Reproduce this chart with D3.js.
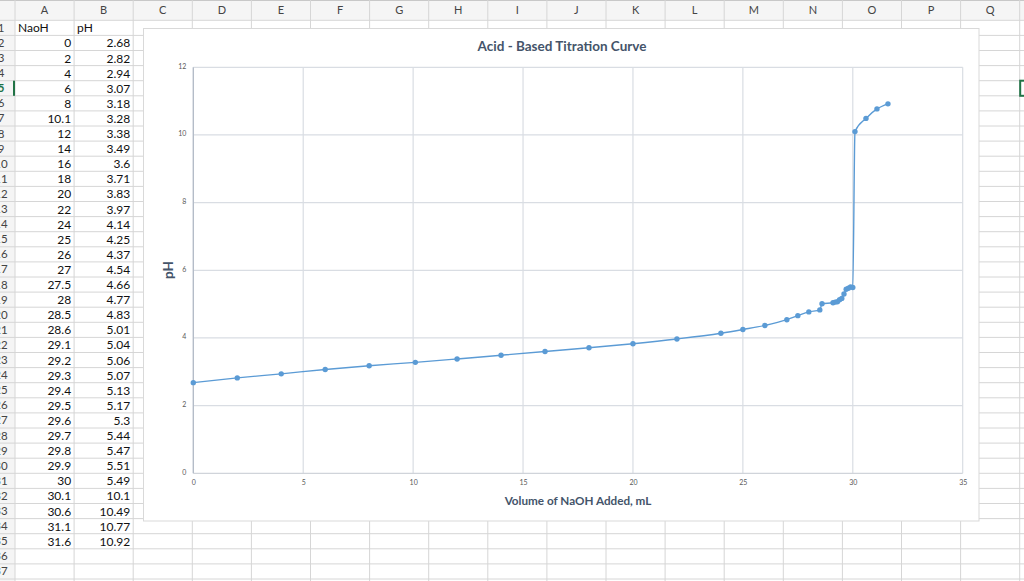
<!DOCTYPE html>
<html><head><meta charset="utf-8">
<script src="https://cdnjs.cloudflare.com/ajax/libs/d3/7.8.5/d3.min.js"></script>
<style>
html,body{margin:0;padding:0;background:#fff;overflow:hidden;}
svg{display:block;font-family:Lato,"Open Sans",sans-serif;}
</style></head>
<body>
<svg id="c" width="1024" height="581"></svg>
<script>
// Data
const naoh = [0,2,4,6,8,10.1,12,14,16,18,20,22,24,25,26,27,27.5,28,28.5,28.6,29.1,29.2,29.3,29.4,29.5,29.6,29.7,29.8,29.9,30,30.1,30.6,31.1,31.6];
const ph   = [2.68,2.82,2.94,3.07,3.18,3.28,3.38,3.49,3.6,3.71,3.83,3.97,4.14,4.25,4.37,4.54,4.66,4.77,4.83,5.01,5.04,5.06,5.07,5.13,5.17,5.3,5.44,5.47,5.51,5.49,10.1,10.49,10.77,10.92];
const colLetters = ["A","B","C","D","E","F","G","H","I","J","K","L","M","N","O","P","Q"];
const xTicks = [0,5,10,15,20,25,30,35];
const yTicks = [0,2,4,6,8,10,12];
const headerA = "NaoH", headerB = "pH";
const chartTitle = "Acid - Based Titration Curve";
const xTitle = "Volume of NaOH Added, mL";
const yTitle = "pH";

const svg = d3.select("#c");
const W = 1024, H = 581;
const colX0 = 15, colW = 59.1, hdrH = 20.3, rowH = 15.1, nRows = 37;
const gridCol = "#d6d6d6";

// ---------- Spreadsheet ----------
const sheet = svg.append("g");
sheet.append("rect").attr("x",0).attr("y",0).attr("width",W).attr("height",hdrH).attr("fill","#f5f5f5");
sheet.append("rect").attr("x",0).attr("y",0).attr("width",colX0).attr("height",H).attr("fill","#f5f5f5");
for(let r=0;r<=nRows;r++){
  const yy = hdrH + r*rowH;
  sheet.append("line").attr("x1",0).attr("x2",W).attr("y1",yy).attr("y2",yy).attr("stroke",gridCol).attr("stroke-width",1);
}
sheet.append("line").attr("x1",0).attr("x2",W).attr("y1",0.5).attr("y2",0.5).attr("stroke","#c8c8c8");
for(let c=0;c<=colLetters.length;c++){
  const xx = colX0 + c*colW;
  sheet.append("line").attr("x1",xx).attr("x2",xx).attr("y1",0).attr("y2",H).attr("stroke",gridCol).attr("stroke-width",1);
}
colLetters.forEach((L,i)=>{
  sheet.append("text").attr("x",colX0 + i*colW + colW/2).attr("y",14)
    .attr("text-anchor","middle").attr("font-size",11).attr("fill","#444").text(L);
});
for(let r=1;r<=nRows;r++){
  const yy = hdrH + (r-1)*rowH + rowH/2 + 4;
  sheet.append("text").attr("x",1).attr("y",yy).attr("text-anchor","middle")
    .attr("font-size",11.5).attr("fill", r===5 ? "#217346" : "#444")
    .attr("font-weight", r===5 ? "bold" : "normal").text(r);
}
sheet.append("rect").attr("x",13).attr("y",hdrH+4*rowH).attr("width",2).attr("height",rowH).attr("fill","#217346");
sheet.append("rect").attr("x",colX0+17*colW+0.5).attr("y",hdrH+4*rowH).attr("width",20).attr("height",rowH)
  .attr("fill","none").attr("stroke","#217346").attr("stroke-width",2);
const cellY = r => hdrH + (r-1)*rowH + rowH/2 + 4.5;
sheet.append("text").attr("x",colX0+3).attr("y",cellY(1)).attr("font-size",12).attr("fill","#111").text(headerA);
sheet.append("text").attr("x",colX0+colW+3).attr("y",cellY(1)).attr("font-size",12).attr("fill","#111").text(headerB);
naoh.forEach((v,i)=>{
  sheet.append("text").attr("x",colX0+colW-3).attr("y",cellY(i+2)).attr("text-anchor","end").attr("font-size",12).attr("fill","#111").text(String(v));
  sheet.append("text").attr("x",colX0+2*colW-3).attr("y",cellY(i+2)).attr("text-anchor","end").attr("font-size",12).attr("fill","#111").text(String(ph[i]));
});

// ---------- Chart ----------
const cx0 = 143.5, cy0 = 28.5, cx1 = 979, cy1 = 521;
svg.append("rect").attr("x",cx0).attr("y",cy0).attr("width",cx1-cx0).attr("height",cy1-cy0)
  .attr("fill","#fff").attr("stroke","#d9d9d9").attr("stroke-width",1);

const x = d3.scaleLinear().domain([0,35]).range([193.3,962.7]);
const y = d3.scaleLinear().domain([0,12]).range([473.3,67.3]);
const ch = svg.append("g");

ch.append("g").selectAll("line").data(xTicks.slice(1)).join("line")
  .attr("x1",d=>x(d)).attr("x2",d=>x(d)).attr("y1",y(12)).attr("y2",y(0))
  .attr("stroke","#d9dde3").attr("stroke-width",1.2);
ch.append("g").selectAll("line").data(yTicks.slice(1)).join("line")
  .attr("x1",x(0)).attr("x2",x(35)).attr("y1",d=>y(d)).attr("y2",d=>y(d))
  .attr("stroke","#d9dde3").attr("stroke-width",1.2);
ch.append("line").attr("x1",x(0)).attr("x2",x(35)).attr("y1",y(0)).attr("y2",y(0)).attr("stroke","#d0d4da").attr("stroke-width",1.2);
ch.append("line").attr("x1",x(0)).attr("x2",x(0)).attr("y1",y(12)).attr("y2",y(0)).attr("stroke","#b4bcc8").attr("stroke-width",1.4);

const yAxis = d3.axisLeft(y).tickValues(yTicks).tickSize(0).tickPadding(0);
const gy = ch.append("g").attr("transform",`translate(${x(0)-7},0)`).call(yAxis);
gy.select(".domain").remove();
gy.selectAll("text").attr("font-size",7).attr("fill","#595959").attr("font-family","Lato,sans-serif").attr("dy","0.1em");
const xAxis = d3.axisBottom(x).tickValues(xTicks).tickSize(0).tickPadding(0);
const gx = ch.append("g").attr("transform",`translate(0,${y(0)+7})`).call(xAxis);
gx.select(".domain").remove();
gx.selectAll("text").attr("font-size",7).attr("fill","#595959").attr("font-family","Lato,sans-serif");

ch.append("text").attr("x",562).attr("y",50.5).attr("text-anchor","middle")
  .attr("font-size",13.5).attr("font-weight","bold").attr("fill","#44546a").text(chartTitle);
ch.append("text").attr("x",578).attr("y",504.5).attr("text-anchor","middle")
  .attr("font-size",11.7).attr("font-weight","bold").attr("fill","#44546a").text(xTitle);
ch.append("text").attr("transform","translate(173,270) rotate(-90)").attr("text-anchor","middle")
  .attr("font-size",13.5).attr("font-weight","bold").attr("fill","#44546a").text(yTitle);

const pts = naoh.map((v,i)=>[v,ph[i]]);
const line = d3.line().x(d=>x(d[0])).y(d=>y(d[1])).curve(d3.curveMonotoneX);
ch.append("path").attr("d",line(pts)).attr("fill","none").attr("stroke","#5b9bd5").attr("stroke-width",1.4);
ch.append("g").selectAll("circle").data(pts).join("circle")
  .attr("cx",d=>x(d[0])).attr("cy",d=>y(d[1])).attr("r",2.7).attr("fill","#5b9bd5");
</script>
</body></html>
